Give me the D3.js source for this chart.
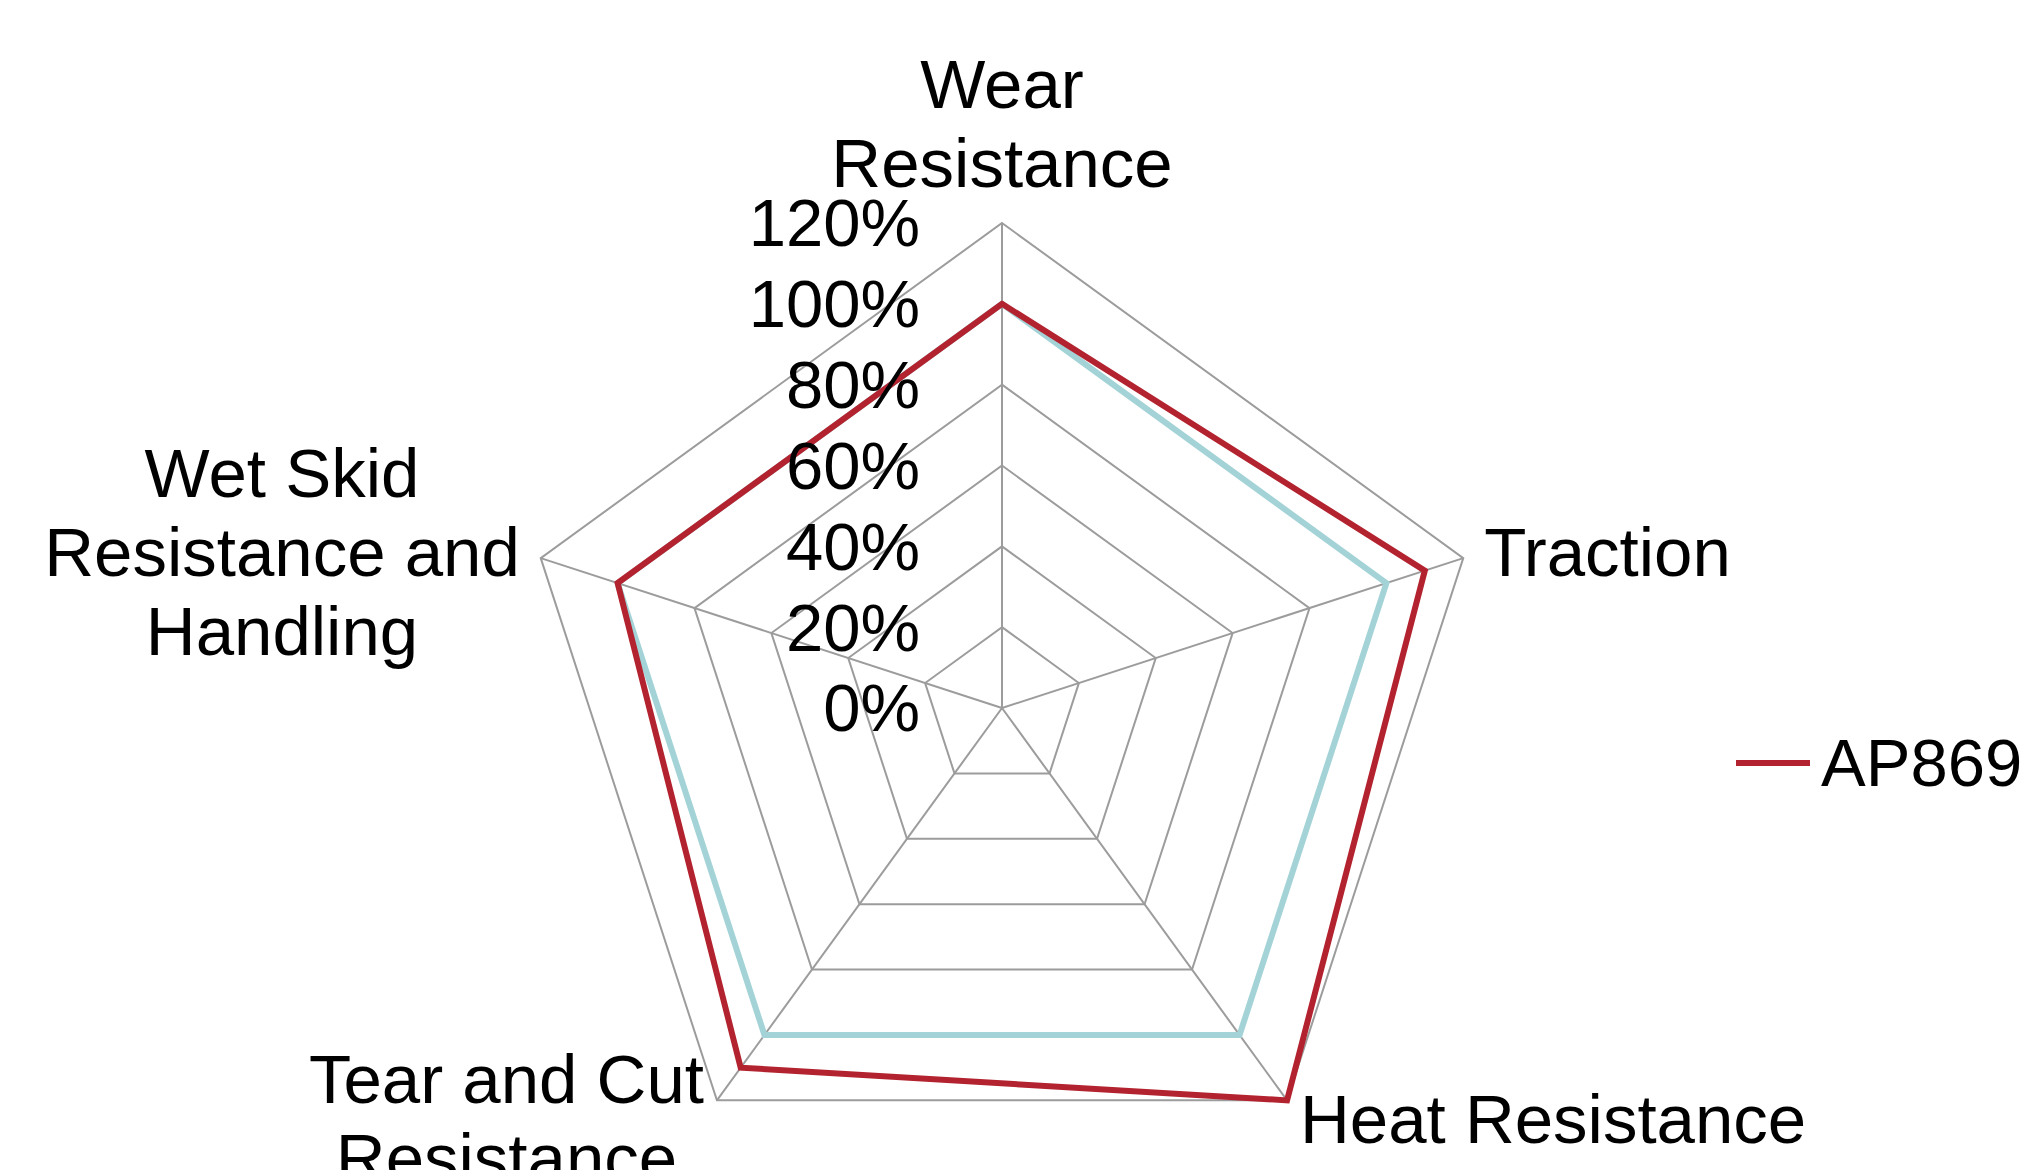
<!DOCTYPE html>
<html>
<head>
<meta charset="utf-8">
<script src="https://cdn.jsdelivr.net/npm/d3@7"></script>
<style>
  html, body { margin: 0; padding: 0; background: #fff; overflow: hidden; }
  svg { display: block; }
  text { font-family: "Liberation Sans", Arial, sans-serif; fill: #000; }
</style>
</head>
<body>
<svg id="chart"></svg>
<script>
/**
 * Radar chart of tyre properties, drawn with d3.
 */

// Data.
var categories = ['Wear Resistance', 'Traction', 'Heat Resistance',
                  'Tear and Cut Resistance', 'Wet Skid Resistance and Handling'];
var categoryLines = [['Wear', 'Resistance'], ['Traction'], ['Heat Resistance'],
                     ['Tear and Cut', 'Resistance'], ['Wet Skid', 'Resistance and', 'Handling']];
var baseValues = [1.00, 1.00, 1.00, 1.00, 1.00];   // light blue reference line
var ap869Values = [1.00, 1.10, 1.20, 1.10, 1.00];  // red line
var seriesNames = ['', 'AP869'];
var tickValues = [0, 0.2, 0.4, 0.6, 0.8, 1.0, 1.2];

// Layout.
var WIDTH = 2027;
var HEIGHT = 1170;
var CX = 1002;
var CY = 708;
var RADIUS = 485;
var FONT_SIZE = 67;
var CAT_FONT_SIZE = 69;
var LINE_HEIGHT = 79;
var LABEL_PAD = 22;
var GRID_COLOR = '#9c9c9c';
var COLORS = ['#a3d3d7', '#b3232f'];

var svg = d3.select('#chart').attr('width', WIDTH).attr('height', HEIGHT);
var g = svg.append('g').attr('transform', 'translate(' + CX + ',' + CY + ')');

var r = d3.scaleLinear().domain([0, 1.2]).range([0, RADIUS]);
var angle = d3.scaleLinear().domain([0, categories.length]).range([0, 2 * Math.PI]);

var point = function(i, v) {
  var a = angle(i);
  return [Math.sin(a) * r(v), -Math.cos(a) * r(v)];
};

var radialLine = d3.lineRadial()
  .angle(function(d, i) { return angle(i); })
  .radius(function(d) { return r(d); })
  .curve(d3.curveLinearClosed);

// Grid rings.
g.selectAll('.ring')
  .data(tickValues.filter(function(t) { return t > 0; }))
  .enter()
  .append('path')
  .attr('class', 'ring')
  .attr('d', function(t) { return radialLine(categories.map(function() { return t; })); })
  .attr('fill', 'none')
  .attr('stroke', GRID_COLOR)
  .attr('stroke-width', 2);

// Spokes.
g.selectAll('.spoke')
  .data(categories)
  .enter()
  .append('line')
  .attr('class', 'spoke')
  .attr('x1', 0).attr('y1', 0)
  .attr('x2', function(d, i) { return point(i, 1.2)[0]; })
  .attr('y2', function(d, i) { return point(i, 1.2)[1]; })
  .attr('stroke', GRID_COLOR)
  .attr('stroke-width', 2);

// Series lines, red on top.
g.selectAll('.series')
  .data([baseValues, ap869Values])
  .enter()
  .append('path')
  .attr('class', 'series')
  .attr('d', function(d) { return radialLine(d); })
  .attr('fill', 'none')
  .attr('stroke', function(d, i) { return COLORS[i]; })
  .attr('stroke-width', 6)
  .attr('stroke-linejoin', 'miter');

// Tick labels along the top spoke.
g.selectAll('.tick')
  .data(tickValues)
  .enter()
  .append('text')
  .attr('class', 'tick')
  .attr('x', -82)
  .attr('y', function(t) { return -r(t); })
  .attr('dy', '0.35em')
  .attr('text-anchor', 'end')
  .attr('font-size', FONT_SIZE)
  .text(d3.format('.0%'));

// Category labels, placed just outside each outer vertex.
categoryLines.forEach(function(lines, i) {
  var a = angle(i);
  var s = Math.sin(a);
  var c = Math.cos(a);
  var px = Math.sin(a) * (RADIUS + LABEL_PAD);
  var py = -Math.cos(a) * (RADIUS + LABEL_PAD);
  var block = g.append('g').attr('class', 'cat-label');
  var texts = block.selectAll('text')
    .data(lines)
    .enter()
    .append('text')
    .attr('font-size', CAT_FONT_SIZE)
    .attr('text-anchor', 'middle')
    .text(function(d) { return d; });
  var w = d3.max(texts.nodes(), function(n) { return n.getComputedTextLength(); });
  var cxBlock = px;
  if (s > 0.1) cxBlock = px + w / 2;
  else if (s < -0.1) cxBlock = px - w / 2;
  var capHalf = CAT_FONT_SIZE * 0.358;
  var firstBaseline;
  if (c > 0.9) {
    // top label: block sits above the vertex
    firstBaseline = py - CAT_FONT_SIZE * 0.21 - (lines.length - 1) * LINE_HEIGHT;
  } else {
    firstBaseline = py + capHalf - (lines.length - 1) * LINE_HEIGHT / 2;
  }
  texts
    .attr('x', cxBlock)
    .attr('y', function(d, j) { return firstBaseline + j * LINE_HEIGHT; });
});

// Legend (only the AP869 entry is visible).
var legend = svg.append('g').attr('transform', 'translate(1736,763)');
legend.append('line')
  .attr('x1', 0).attr('x2', 74)
  .attr('y1', 0).attr('y2', 0)
  .attr('stroke', COLORS[1])
  .attr('stroke-width', 6);
legend.append('text')
  .attr('x', 85)
  .attr('y', 0)
  .attr('dy', '0.35em')
  .attr('font-size', FONT_SIZE)
  .text(seriesNames[1]);
</script>
</body>
</html>
